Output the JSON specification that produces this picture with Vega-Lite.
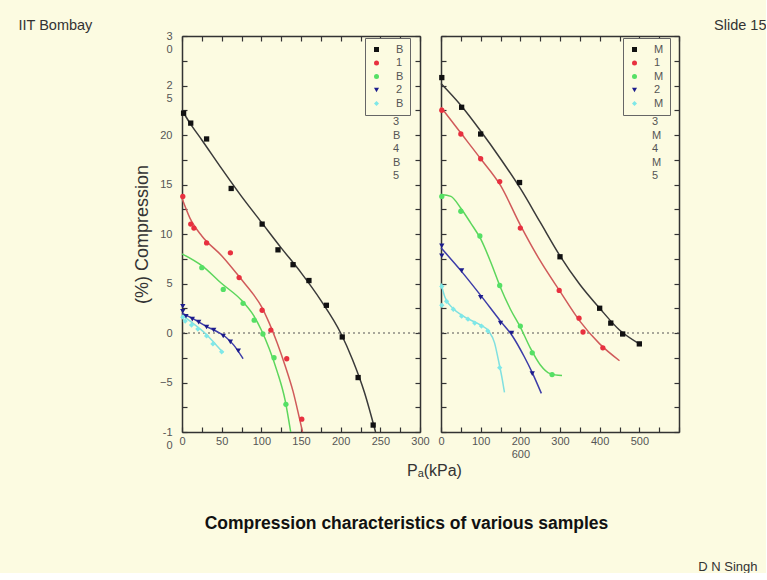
{
  "$schema": "https://vega.github.io/schema/vega-lite/v6.json",
  "background": "#fcfbe1",
  "padding": {"left": 18, "top": 17, "right": 0, "bottom": 0},
  "config": {
    "font": "Liberation Sans",
    "view": {"stroke": null},
    "axis": {
      "domainColor": "#333", "domainWidth": 1.5, "tickColor": "#333", "tickWidth": 1.2, "tickSize": -5,
      "labelColor": "#555", "labelFontSize": 11, "labelFont": "Liberation Sans", "titleFont": "Liberation Sans",
      "grid": false, "titleColor": "#333", "labelFlush": false, "labelOverlap": false, "titleFontWeight": "normal"
    }
  },
  "datasets": {
    "fits": [
      {"series": "B1", "x": 0, "y": 22.5}, {"series": "B1", "x": 10, "y": 21.2}, {"series": "B1", "x": 25, "y": 19.5}, {"series": "B1", "x": 50, "y": 16.6}, {"series": "B1", "x": 75, "y": 13.8}, {"series": "B1", "x": 100, "y": 11.2}, {"series": "B1", "x": 125, "y": 8.6}, {"series": "B1", "x": 150, "y": 6.1}, {"series": "B1", "x": 175, "y": 3.3}, {"series": "B1", "x": 200, "y": 0.0}, {"series": "B1", "x": 215, "y": -2.7}, {"series": "B1", "x": 230, "y": -6.0}, {"series": "B1", "x": 244, "y": -10},
      {"series": "B2", "x": 0, "y": 13.6}, {"series": "B2", "x": 10, "y": 11.6}, {"series": "B2", "x": 25, "y": 9.8}, {"series": "B2", "x": 50, "y": 7.8}, {"series": "B2", "x": 75, "y": 5.4}, {"series": "B2", "x": 90, "y": 3.9}, {"series": "B2", "x": 100, "y": 2.7}, {"series": "B2", "x": 110, "y": 1.0}, {"series": "B2", "x": 120, "y": -1.0}, {"series": "B2", "x": 130, "y": -3.3}, {"series": "B2", "x": 140, "y": -5.9}, {"series": "B2", "x": 148, "y": -8.6}, {"series": "B2", "x": 152, "y": -10},
      {"series": "B3", "x": 0, "y": 8.0}, {"series": "B3", "x": 25, "y": 6.8}, {"series": "B3", "x": 50, "y": 5.0}, {"series": "B3", "x": 75, "y": 3.3}, {"series": "B3", "x": 90, "y": 1.8}, {"series": "B3", "x": 100, "y": 0.3}, {"series": "B3", "x": 110, "y": -1.6}, {"series": "B3", "x": 120, "y": -3.9}, {"series": "B3", "x": 130, "y": -6.8}, {"series": "B3", "x": 137, "y": -10},
      {"series": "B4", "x": 0, "y": 2.0}, {"series": "B4", "x": 15, "y": 1.4}, {"series": "B4", "x": 30, "y": 0.7}, {"series": "B4", "x": 45, "y": 0.1}, {"series": "B4", "x": 55, "y": -0.4}, {"series": "B4", "x": 65, "y": -1.2}, {"series": "B4", "x": 77, "y": -2.6},
      {"series": "B5", "x": 0, "y": 1.8}, {"series": "B5", "x": 15, "y": 0.9}, {"series": "B5", "x": 30, "y": -0.1}, {"series": "B5", "x": 42, "y": -1.1}, {"series": "B5", "x": 52, "y": -2.0},
      {"series": "M1", "x": 0, "y": 25.2}, {"series": "M1", "x": 50, "y": 23.0}, {"series": "M1", "x": 100, "y": 20.4}, {"series": "M1", "x": 150, "y": 17.6}, {"series": "M1", "x": 200, "y": 14.6}, {"series": "M1", "x": 250, "y": 11.2}, {"series": "M1", "x": 300, "y": 7.8}, {"series": "M1", "x": 350, "y": 4.9}, {"series": "M1", "x": 400, "y": 2.5}, {"series": "M1", "x": 450, "y": 0.3}, {"series": "M1", "x": 500, "y": -1.1},
      {"series": "M2", "x": 0, "y": 22.8}, {"series": "M2", "x": 50, "y": 20.2}, {"series": "M2", "x": 100, "y": 17.6}, {"series": "M2", "x": 150, "y": 14.9}, {"series": "M2", "x": 200, "y": 10.9}, {"series": "M2", "x": 250, "y": 7.3}, {"series": "M2", "x": 300, "y": 4.2}, {"series": "M2", "x": 350, "y": 1.2}, {"series": "M2", "x": 400, "y": -1.1}, {"series": "M2", "x": 450, "y": -2.8},
      {"series": "M3", "x": 0, "y": 14.0}, {"series": "M3", "x": 25, "y": 13.8}, {"series": "M3", "x": 50, "y": 12.6}, {"series": "M3", "x": 75, "y": 11.1}, {"series": "M3", "x": 100, "y": 9.5}, {"series": "M3", "x": 125, "y": 7.2}, {"series": "M3", "x": 150, "y": 4.6}, {"series": "M3", "x": 175, "y": 2.4}, {"series": "M3", "x": 200, "y": 0.6}, {"series": "M3", "x": 225, "y": -1.5}, {"series": "M3", "x": 250, "y": -3.2}, {"series": "M3", "x": 275, "y": -4.1}, {"series": "M3", "x": 305, "y": -4.3},
      {"series": "M4", "x": 0, "y": 8.6}, {"series": "M4", "x": 50, "y": 6.3}, {"series": "M4", "x": 100, "y": 3.8}, {"series": "M4", "x": 150, "y": 1.2}, {"series": "M4", "x": 180, "y": -0.3}, {"series": "M4", "x": 210, "y": -2.4}, {"series": "M4", "x": 230, "y": -4.0}, {"series": "M4", "x": 253, "y": -6.1},
      {"series": "M5", "x": 0, "y": 5.0}, {"series": "M5", "x": 10, "y": 3.6}, {"series": "M5", "x": 30, "y": 2.5}, {"series": "M5", "x": 60, "y": 1.6}, {"series": "M5", "x": 100, "y": 0.8}, {"series": "M5", "x": 120, "y": 0.2}, {"series": "M5", "x": 135, "y": -1.0}, {"series": "M5", "x": 145, "y": -2.8}, {"series": "M5", "x": 155, "y": -4.8}, {"series": "M5", "x": 160, "y": -6.0}
    ],
    "pts": [
      {"series": "B1", "x": 2, "y": 22.2}, {"series": "B1", "x": 11, "y": 21.2}, {"series": "B1", "x": 31, "y": 19.6}, {"series": "B1", "x": 62, "y": 14.6}, {"series": "B1", "x": 101, "y": 11.0}, {"series": "B1", "x": 121, "y": 8.4}, {"series": "B1", "x": 140, "y": 6.9}, {"series": "B1", "x": 160, "y": 5.3}, {"series": "B1", "x": 182, "y": 2.8}, {"series": "B1", "x": 202, "y": -0.4}, {"series": "B1", "x": 222, "y": -4.5}, {"series": "B1", "x": 241, "y": -9.3},
      {"series": "B2", "x": 1, "y": 13.8}, {"series": "B2", "x": 11, "y": 11.0}, {"series": "B2", "x": 15, "y": 10.6}, {"series": "B2", "x": 31, "y": 9.1}, {"series": "B2", "x": 61, "y": 8.1}, {"series": "B2", "x": 72, "y": 5.6}, {"series": "B2", "x": 101, "y": 2.3}, {"series": "B2", "x": 112, "y": 0.3}, {"series": "B2", "x": 132, "y": -2.6}, {"series": "B2", "x": 151, "y": -8.7},
      {"series": "B3", "x": 25, "y": 6.6}, {"series": "B3", "x": 52, "y": 4.4}, {"series": "B3", "x": 77, "y": 3.0}, {"series": "B3", "x": 91, "y": 1.3}, {"series": "B3", "x": 102, "y": -0.1}, {"series": "B3", "x": 116, "y": -2.5}, {"series": "B3", "x": 131, "y": -7.2},
      {"series": "B4", "x": 1, "y": 2.7}, {"series": "B4", "x": 1, "y": 2.2}, {"series": "B4", "x": 5, "y": 1.7}, {"series": "B4", "x": 13, "y": 1.4}, {"series": "B4", "x": 21, "y": 1.1}, {"series": "B4", "x": 31, "y": 0.6}, {"series": "B4", "x": 40, "y": 0.3}, {"series": "B4", "x": 52, "y": -0.3}, {"series": "B4", "x": 61, "y": -0.9}, {"series": "B4", "x": 71, "y": -1.8},
      {"series": "B5", "x": 1, "y": 1.6}, {"series": "B5", "x": 4, "y": 1.2}, {"series": "B5", "x": 12, "y": 0.8}, {"series": "B5", "x": 20, "y": 0.4}, {"series": "B5", "x": 31, "y": -0.3}, {"series": "B5", "x": 39, "y": -1.1}, {"series": "B5", "x": 50, "y": -1.9},
      {"series": "M1", "x": 2, "y": 25.8}, {"series": "M1", "x": 52, "y": 22.8}, {"series": "M1", "x": 100, "y": 20.1}, {"series": "M1", "x": 198, "y": 15.2}, {"series": "M1", "x": 300, "y": 7.7}, {"series": "M1", "x": 400, "y": 2.5}, {"series": "M1", "x": 428, "y": 1.0}, {"series": "M1", "x": 458, "y": -0.1}, {"series": "M1", "x": 500, "y": -1.1},
      {"series": "M2", "x": 2, "y": 22.5}, {"series": "M2", "x": 50, "y": 20.1}, {"series": "M2", "x": 100, "y": 17.6}, {"series": "M2", "x": 148, "y": 15.3}, {"series": "M2", "x": 200, "y": 10.6}, {"series": "M2", "x": 298, "y": 4.3}, {"series": "M2", "x": 348, "y": 1.5}, {"series": "M2", "x": 358, "y": 0.1}, {"series": "M2", "x": 408, "y": -1.5},
      {"series": "M3", "x": 2, "y": 13.8}, {"series": "M3", "x": 50, "y": 12.3}, {"series": "M3", "x": 98, "y": 9.8}, {"series": "M3", "x": 148, "y": 4.8}, {"series": "M3", "x": 200, "y": 0.7}, {"series": "M3", "x": 230, "y": -2.0}, {"series": "M3", "x": 280, "y": -4.2},
      {"series": "M4", "x": 2, "y": 8.8}, {"series": "M4", "x": 2, "y": 7.8}, {"series": "M4", "x": 52, "y": 6.3}, {"series": "M4", "x": 100, "y": 3.6}, {"series": "M4", "x": 150, "y": 1.0}, {"series": "M4", "x": 178, "y": 0.0}, {"series": "M4", "x": 230, "y": -4.1},
      {"series": "M5", "x": 2, "y": 4.7}, {"series": "M5", "x": 2, "y": 2.8}, {"series": "M5", "x": 14, "y": 3.2}, {"series": "M5", "x": 31, "y": 2.4}, {"series": "M5", "x": 52, "y": 1.7}, {"series": "M5", "x": 68, "y": 1.4}, {"series": "M5", "x": 85, "y": 1.0}, {"series": "M5", "x": 102, "y": 0.7}, {"series": "M5", "x": 118, "y": 0.2}, {"series": "M5", "x": 148, "y": -3.5}
    ]
  },
  "spacing": 21,
  "bounds": "flush",
  "resolve": {
    "scale": {"stroke": "independent", "fill": "independent", "shape": "independent"},
    "legend": {"stroke": "independent", "fill": "independent", "shape": "independent"}
  },
  "hconcat": [
    {
      "width": 238, "height": 396,
      "resolve": {"axis": {"x": "independent", "y": "independent"}},
      "layer": [
        {
          "data": {"values": [{"z": 0}]},
          "mark": {"type": "rule", "strokeDash": [2, 3], "color": "#555", "strokeWidth": 1.2},
          "encoding": {"y": {"field": "z", "type": "quantitative", "axis": null}}
        },
        {
          "data": {"name": "fits"},
          "transform": [{"filter": "indexof(datum.series, 'B') == 0"}],
          "mark": {"type": "line", "interpolate": "monotone", "strokeWidth": 1.5},
          "encoding": {
            "x": {"field": "x", "type": "quantitative", "scale": {"domain": [0, 300], "nice": false, "zero": false},
              "axis": {"orient": "bottom", "values": [0, 25, 50, 75, 100, 125, 150, 175, 200, 225, 250, 275, 300],
                "labelExpr": "datum.value % 50 == 0 ? datum.label : ''", "labelPadding": 8,
                "title": "Pₐ(kPa)", "titleX": 252, "titleY": 43, "titleAlign": "center", "titleBaseline": "alphabetic", "titleFontSize": 16}},
            "y": {"field": "y", "type": "quantitative", "scale": {"domain": [-10, 30], "nice": false, "zero": false},
              "axis": {"orient": "left", "values": [-10, -7.5, -5, -2.5, 0, 2.5, 5, 7.5, 10, 12.5, 15, 17.5, 20, 22.5, 25, 27.5, 30],
                "labelExpr": "datum.value == 30 ? ['3','0'] : datum.value == 25 ? ['2','5'] : datum.value == -10 ? ['-1','0'] : (datum.value % 5 == 0 ? datum.label : '')",
                "labelBaseline": {"condition": {"test": "datum.value == 30 || datum.value == 25 || datum.value == -10", "value": "top"}, "value": "middle"},
                "labelOffset": {"condition": {"test": "datum.value == 30 || datum.value == 25 || datum.value == -10", "value": -6}, "value": 0},
                "labelPadding": 15,
                "title": "(%) Compression", "titleX": -40, "titleY": 198, "titleAngle": 270, "titleAlign": "center", "titleBaseline": "middle", "titleFontSize": 18}},
            "stroke": {"field": "series", "type": "nominal",
              "scale": {"range": ["#3a3a3a", "#d05a5a", "#5cd65c", "#3c3ca8", "#80e0e0"]}, "legend": null}
          }
        },
        {
          "data": {"name": "pts"},
          "transform": [{"filter": "indexof(datum.series, 'B') == 0"}],
          "mark": {"type": "point", "filled": true, "size": 28, "opacity": 1},
          "encoding": {
            "x": {"field": "x", "type": "quantitative",
              "axis": {"orient": "top", "values": [0, 25, 50, 75, 100, 125, 150, 175, 200, 225, 250, 275, 300], "labels": false,
                "title": "IIT Bombay", "titleX": -164, "titleY": -18, "titleAlign": "left", "titleBaseline": "top", "titleFontSize": 14.5}},
            "y": {"field": "y", "type": "quantitative",
              "axis": {"orient": "right", "values": [-10, -7.5, -5, -2.5, 0, 2.5, 5, 7.5, 10, 12.5, 15, 17.5, 20, 22.5, 25, 27.5, 30], "labels": false, "title": null}},
            "fill": {"field": "series", "type": "nominal",
              "scale": {"domain": ["B1", "B2", "B3", "B4", "B5"], "range": ["#111111", "#e8303f", "#55e065", "#1c1c8c", "#7fe8e8"]},
              "legend": {"orient": "none", "legendX": 183, "legendY": 2, "title": null, "fillColor": "#fcfbe1", "strokeColor": "#666", "padding": 6,
                "labelExpr": "substring('B1B2B', toNumber(substring(datum.label, 1)) - 1, toNumber(substring(datum.label, 1)))",
                "labelFontSize": 11, "labelColor": "#555", "symbolSize": 25, "rowPadding": 1.5, "labelOffset": 14}},
            "shape": {"field": "series", "type": "nominal",
              "scale": {"domain": ["B1", "B2", "B3", "B4", "B5"], "range": ["square", "circle", "circle", "triangle-down", "diamond"]},
              "legend": {"orient": "none", "legendX": 183, "legendY": 2, "title": null, "fillColor": "#fcfbe1", "strokeColor": "#666", "padding": 6,
                "labelExpr": "substring('B1B2B', toNumber(substring(datum.label, 1)) - 1, toNumber(substring(datum.label, 1)))",
                "labelFontSize": 11, "labelColor": "#555", "symbolSize": 25, "rowPadding": 1.5, "labelOffset": 14}}
          }
        },
        {
          "data": {"values": [{"x": 266, "y": 21.9, "t": "3\nB\n4\nB\n5"}]},
          "mark": {"type": "text", "align": "left", "baseline": "top", "lineBreak": "\n", "lineHeight": 13.5, "fontSize": 11, "color": "#555"},
          "encoding": {
            "x": {"field": "x", "type": "quantitative", "axis": null},
            "y": {"field": "y", "type": "quantitative", "axis": null},
            "text": {"field": "t"}
          }
        }
      ]
    },
    {
      "width": 238, "height": 396,
      "resolve": {"axis": {"x": "independent", "y": "independent"}},
      "layer": [
        {
          "data": {"values": [{"z": 0}]},
          "mark": {"type": "rule", "strokeDash": [2, 3], "color": "#555", "strokeWidth": 1.2},
          "encoding": {"y": {"field": "z", "type": "quantitative", "axis": null}}
        },
        {
          "data": {"name": "fits"},
          "transform": [{"filter": "indexof(datum.series, 'M') == 0"}],
          "mark": {"type": "line", "interpolate": "monotone", "strokeWidth": 1.5},
          "encoding": {
            "x": {"field": "x", "type": "quantitative", "scale": {"domain": [0, 600], "nice": false, "zero": false},
              "axis": {"orient": "bottom", "values": [0, 50, 100, 150, 200, 250, 300, 350, 400, 450, 500, 550, 600],
                "labelExpr": "datum.value == 200 ? ['200','600'] : datum.value == 600 ? '' : (datum.value % 100 == 0 ? datum.label : '')", "labelPadding": 8,
                "title": "D N Singh", "titleX": 316, "titleY": 134, "titleAlign": "right", "titleBaseline": "middle", "titleFontSize": 13}},
            "y": {"field": "y", "type": "quantitative", "scale": {"domain": [-10, 30], "nice": false, "zero": false},
              "axis": {"orient": "left", "values": [-10, -7.5, -5, -2.5, 0, 2.5, 5, 7.5, 10, 12.5, 15, 17.5, 20, 22.5, 25, 27.5, 30], "labels": false, "title": null}},
            "stroke": {"field": "series", "type": "nominal",
              "scale": {"range": ["#3a3a3a", "#d05a5a", "#5cd65c", "#3c3ca8", "#80e0e0"]}, "legend": null}
          }
        },
        {
          "data": {"name": "pts"},
          "transform": [{"filter": "indexof(datum.series, 'M') == 0"}],
          "mark": {"type": "point", "filled": true, "size": 28, "opacity": 1},
          "encoding": {
            "x": {"field": "x", "type": "quantitative",
              "axis": {"orient": "top", "values": [0, 50, 100, 150, 200, 250, 300, 350, 400, 450, 500, 550, 600], "labels": false,
                "title": "Slide 15", "titleX": 325, "titleY": -18, "titleAlign": "right", "titleBaseline": "top", "titleFontSize": 14.5}},
            "y": {"field": "y", "type": "quantitative",
              "axis": {"orient": "right", "values": [-10, -7.5, -5, -2.5, 0, 2.5, 5, 7.5, 10, 12.5, 15, 17.5, 20, 22.5, 25, 27.5, 30], "labels": false,
                "title": "Compression characteristics of various samples", "titleX": -273, "titleY": 487, "titleAngle": 0, "titleAlign": "center", "titleBaseline": "middle", "titleFontSize": 17.5, "titleFontWeight": "bold", "titleColor": "#111"}},
            "fill": {"field": "series", "type": "nominal",
              "scale": {"domain": ["M1", "M2", "M3", "M4", "M5"], "range": ["#111111", "#e8303f", "#55e065", "#1c1c8c", "#7fe8e8"]},
              "legend": {"orient": "none", "legendX": 182, "legendY": 2, "title": null, "fillColor": "#fcfbe1", "strokeColor": "#666", "padding": 6,
                "labelExpr": "substring('M1M2M', toNumber(substring(datum.label, 1)) - 1, toNumber(substring(datum.label, 1)))",
                "labelFontSize": 11, "labelColor": "#555", "symbolSize": 25, "rowPadding": 1.5, "labelOffset": 14}},
            "shape": {"field": "series", "type": "nominal",
              "scale": {"domain": ["M1", "M2", "M3", "M4", "M5"], "range": ["square", "circle", "circle", "triangle-down", "diamond"]},
              "legend": {"orient": "none", "legendX": 182, "legendY": 2, "title": null, "fillColor": "#fcfbe1", "strokeColor": "#666", "padding": 6,
                "labelExpr": "substring('M1M2M', toNumber(substring(datum.label, 1)) - 1, toNumber(substring(datum.label, 1)))",
                "labelFontSize": 11, "labelColor": "#555", "symbolSize": 25, "rowPadding": 1.5, "labelOffset": 14}}
          }
        },
        {
          "data": {"values": [{"x": 532, "y": 21.9, "t": "3\nM\n4\nM\n5"}]},
          "mark": {"type": "text", "align": "left", "baseline": "top", "lineBreak": "\n", "lineHeight": 13.5, "fontSize": 11, "color": "#555"},
          "encoding": {
            "x": {"field": "x", "type": "quantitative", "axis": null},
            "y": {"field": "y", "type": "quantitative", "axis": null},
            "text": {"field": "t"}
          }
        }
      ]
    }
  ]
}
